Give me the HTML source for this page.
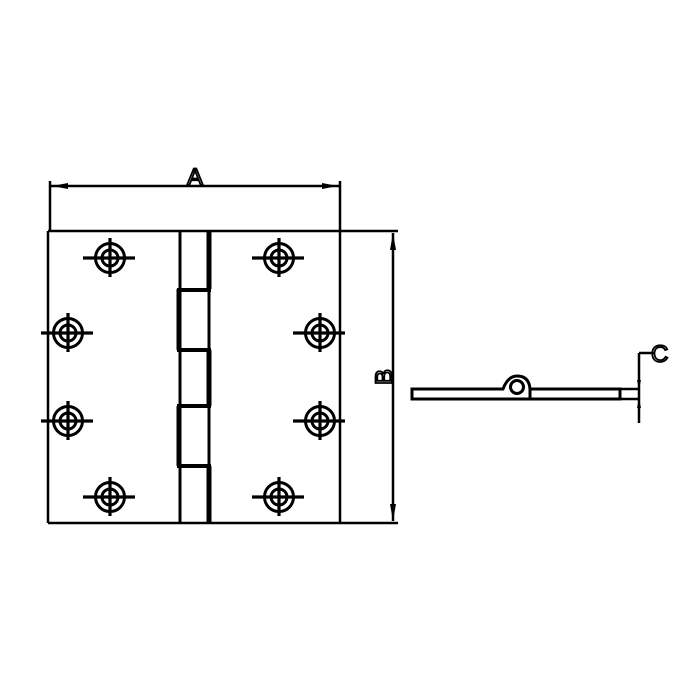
<!DOCTYPE html>
<html><head><style>html,body{margin:0;padding:0;background:#fff}svg{display:block}</style></head>
<body>
<svg width="700" height="700" viewBox="0 0 700 700" xmlns="http://www.w3.org/2000/svg">
<defs>
<g id="h">
<circle r="14.5" fill="none" stroke="#000" stroke-width="3"/>
<circle r="8" fill="none" stroke="#000" stroke-width="3"/>
<line x1="-27" y1="0" x2="25" y2="0" stroke="#000" stroke-width="3.2"/>
<line x1="0" y1="-20" x2="0" y2="19" stroke="#000" stroke-width="3.2"/>
</g>
</defs>
<g stroke="#000" fill="none">
<line x1="48" y1="231" x2="398" y2="231" stroke-width="2.5"/>
<line x1="48" y1="523" x2="398" y2="523" stroke-width="2.5"/>
<line x1="48" y1="231" x2="48" y2="523" stroke-width="2.5"/>
<line x1="340" y1="181" x2="340" y2="523" stroke-width="2.5"/>
<line x1="50" y1="181" x2="50" y2="231" stroke-width="2.5"/>
<line x1="50" y1="186" x2="340" y2="186" stroke-width="2.5"/>
<line x1="180" y1="231" x2="180" y2="523" stroke-width="3"/>
<line x1="209" y1="231" x2="209" y2="523" stroke-width="3"/>
<line x1="209" y1="231" x2="209" y2="289" stroke-width="5"/>
<line x1="179" y1="289" x2="179" y2="350" stroke-width="5"/>
<line x1="209" y1="350" x2="209" y2="406" stroke-width="5"/>
<line x1="179" y1="406" x2="179" y2="466" stroke-width="5"/>
<line x1="209" y1="466" x2="209" y2="523" stroke-width="5"/>
<line x1="177" y1="290" x2="211" y2="290" stroke-width="4"/>
<line x1="177" y1="350" x2="211" y2="350" stroke-width="4"/>
<line x1="177" y1="406" x2="211" y2="406" stroke-width="4"/>
<line x1="177" y1="466" x2="211" y2="466" stroke-width="4"/>
<line x1="393" y1="233" x2="393" y2="521" stroke-width="2.5"/>
<path d="M412 389 H503 Q508 376 517 376 Q529 376 530 389 H620 V399 H412 Z" stroke-width="3"/>
<circle cx="517" cy="387" r="6.5" stroke-width="3"/>
<line x1="530" y1="389" x2="530" y2="399" stroke-width="3"/>
<line x1="620" y1="389" x2="640" y2="389" stroke-width="2.5"/>
<line x1="620" y1="399" x2="640" y2="399" stroke-width="2.5"/>
<line x1="639" y1="353" x2="639" y2="423" stroke-width="2.5"/>
<line x1="639" y1="353" x2="655" y2="353" stroke-width="2.5"/>
</g>
<g fill="#000">
<polygon points="52,186 68,183 68,189"/>
<polygon points="338,186 322,183 322,189"/>
<polygon points="393,233 390,250 396,250"/>
<polygon points="393,521 390,504 396,504"/>
<polygon points="639,389 637,380 641,380"/>
<polygon points="639,399 637,408 641,408"/>
</g>
<use href="#h" x="110" y="258"/><use href="#h" x="279" y="258"/>
<use href="#h" x="68" y="333"/><use href="#h" x="320" y="333"/>
<use href="#h" x="68" y="421"/><use href="#h" x="320" y="421"/>
<use href="#h" x="110" y="497"/><use href="#h" x="279" y="497"/>
<g font-family="Liberation Sans, sans-serif" font-size="24" fill="none" stroke="#000" stroke-width="1.8">
<text x="195" y="185" text-anchor="middle">A</text>
<text transform="translate(392,377) rotate(-90)" text-anchor="middle">B</text>
<text x="651" y="362">C</text>
</g>
</svg>
</body></html>
